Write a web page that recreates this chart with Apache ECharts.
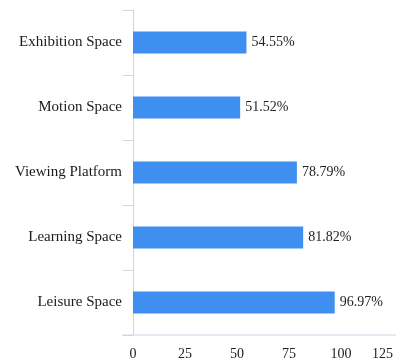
<!DOCTYPE html>
<html>
<head>
<meta charset="utf-8">
<script src="https://cdn.jsdelivr.net/npm/echarts@6/dist/echarts.min.js"></script>
<style>html,body{margin:0;padding:0;background:#fff}#c{width:396px;height:364px}</style>
</head>
<body>
<div id="c"></div>
<script>
const categories = ['Exhibition Space', 'Motion Space', 'Viewing Platform', 'Learning Space', 'Leisure Space'];
const values = [54.55, 51.52, 78.79, 81.82, 96.97];
const xTicks = [0, 25, 50, 75, 100, 125];

const chart = echarts.init(document.getElementById('c'));
const font = '"Liberation Serif", "Times New Roman", serif';
chart.setOption({
  animation: false,
  grid: {left: 133, right: 3, top: 10, bottom: 29},
  xAxis: {
    type: 'value', min: xTicks[0], max: xTicks[xTicks.length - 1], interval: 25,
    axisLine: {show: false}, axisTick: {show: false}, splitLine: {show: false},
    axisLabel: {fontFamily: font, fontSize: 14, color: '#222', margin: 12, alignMaxLabel: 'right'}
  },
  yAxis: {
    type: 'category', data: categories, inverse: true,
    axisLine: {show: true, lineStyle: {color: '#ccd6eb', width: 1}},
    axisTick: {show: true, length: 10, lineStyle: {color: '#ccd6eb'}},
    axisLabel: {fontFamily: font, fontSize: 15, color: '#1a1a1a', margin: 11}
  },
  series: [{
    type: 'bar', data: values, barWidth: 22,
    itemStyle: {color: '#3f8ff0'},
    label: {show: true, position: 'right', distance: 5, fontFamily: font, fontSize: 14, color: '#222',
      formatter: p => p.value.toFixed(2) + '%'}
  }],
  graphic: [{type: 'line', shape: {x1: 122, y1: 335, x2: 396, y2: 335}, style: {stroke: '#ccd6eb', lineWidth: 1}}]
});
</script>
</body>
</html>
